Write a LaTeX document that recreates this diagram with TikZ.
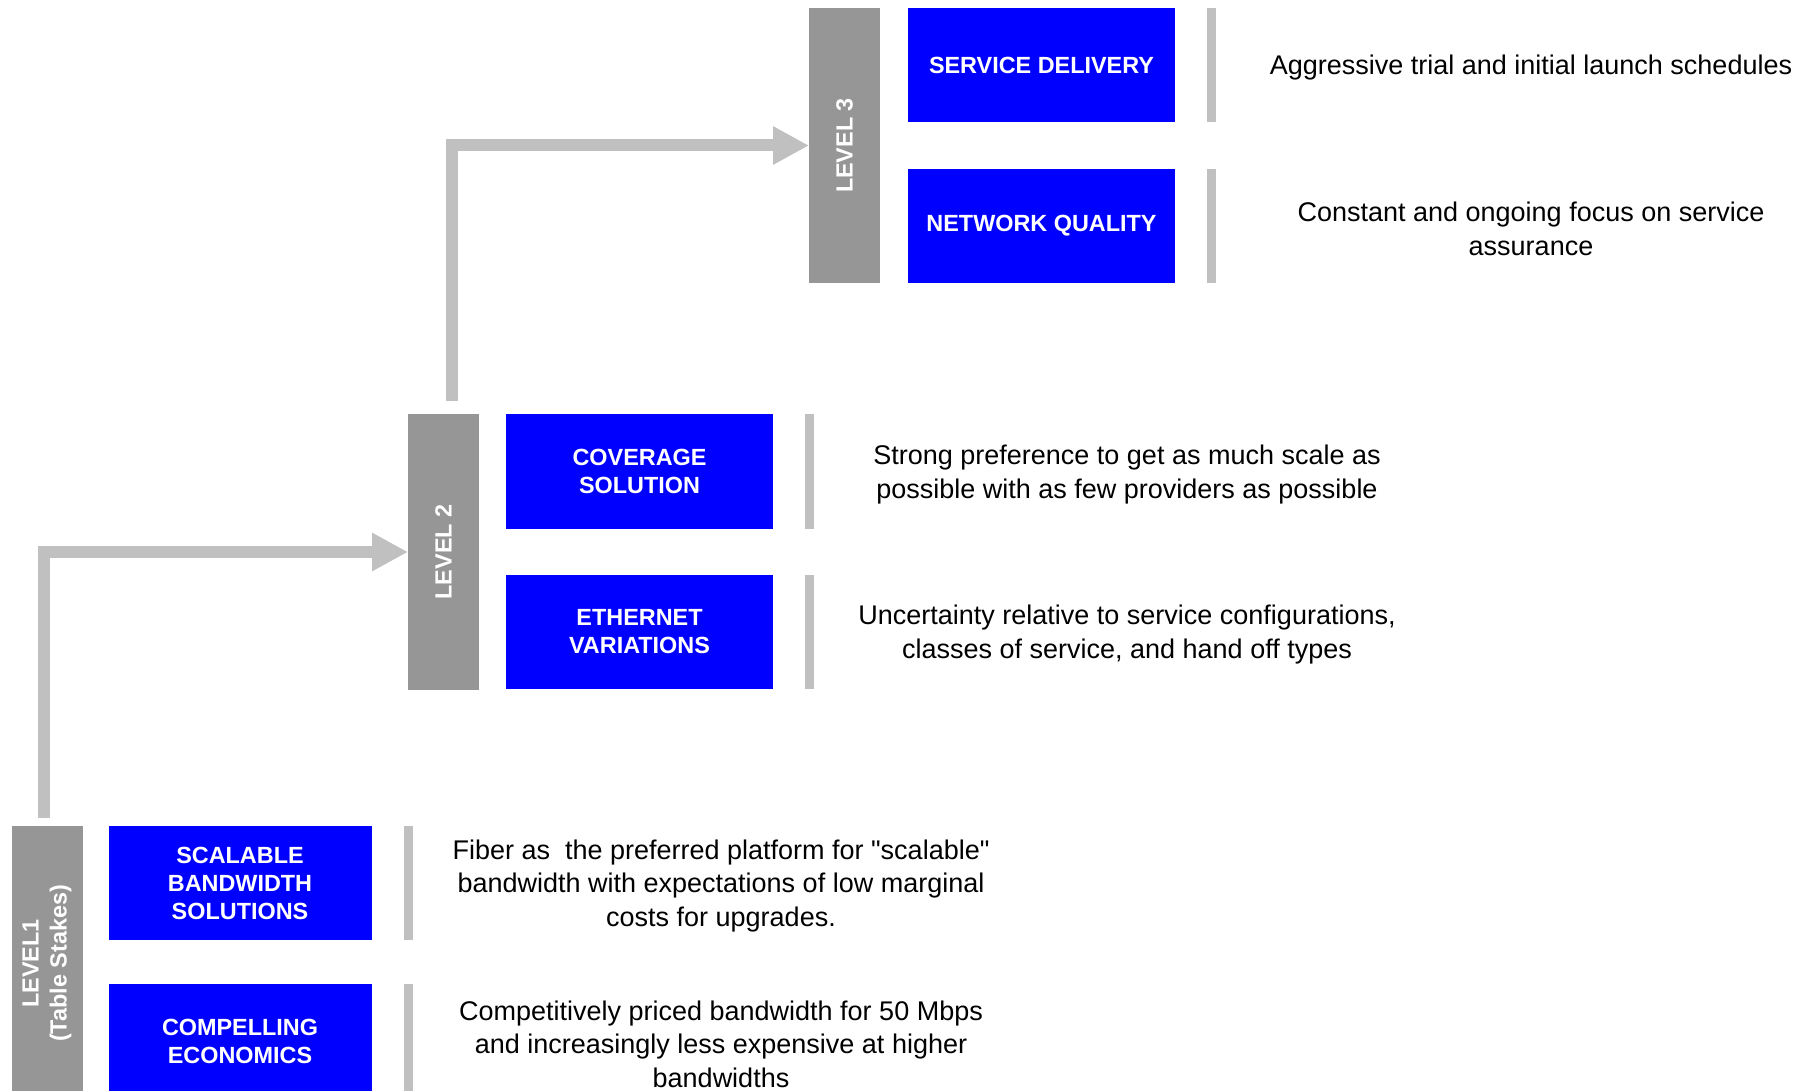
\documentclass[tikz,border=0pt]{standalone}
\usepackage{fontspec}
\setmainfont{Liberation Sans}
\usetikzlibrary{positioning}
\usetikzlibrary{arrows.meta}

\definecolor{boxblue}{RGB}{0,0,255}
\definecolor{bargray}{RGB}{150,150,150}
\definecolor{linegray}{RGB}{192,192,192}

\begin{document}
\begin{tikzpicture}[x=0.5pt, y=-0.5pt,
  lvlbar/.style={fill=bargray, text=white, minimum width=35.5pt, minimum height=137.5pt,
    inner sep=0, outer sep=0, font=\fontsize{11.7pt}{14pt}\selectfont\bfseries},
  itembox/.style={fill=boxblue, text=white, align=center, minimum width=133.5pt,
    minimum height=57pt, inner sep=0, outer sep=0, font=\fontsize{11.7pt}{14pt}\selectfont\bfseries},
  sepbar/.style={fill=linegray, minimum width=4.5pt, minimum height=57pt, inner sep=0, outer sep=0},
  desc/.style={align=center, yshift=-1.5pt, font=\fontsize{13.5pt}{16.8pt}\selectfont},
  flow/.style={draw=linegray, line width=6pt, -{Triangle[length=18pt, width=18pt]}}]

  % Page
  \useasboundingbox (0,0) rectangle (1817,1091);
  \clip (0,0) rectangle (1817,1091);

  % Level 3
  \node[lvlbar] (lvl3) at (844.5,145.5) {\rotatebox{90}{LEVEL 3}};
  \node[itembox, right=14pt of lvl3.north east, anchor=north west] (sd) {SERVICE DELIVERY};
  \node[itembox, below=23.5pt of sd] (nq) {NETWORK QUALITY};
  \node[sepbar, right=16pt of sd] (sdsep) {};
  \node[sepbar, right=16pt of nq] (nqsep) {};
  \node[desc] (sdtxt) at (1531,0 |- sd) {Aggressive trial and initial launch schedules};
  \node[desc] (nqtxt) at (1531,0 |- nq) {Constant and ongoing focus on service\\assurance};

  % Level 2
  \node[lvlbar] (lvl2) at (443.5,552) {\rotatebox{90}{LEVEL 2}};
  \node[itembox, right=13.5pt of lvl2.north east, anchor=north west] (cov) {COVERAGE\\SOLUTION};
  \node[itembox, below=23pt of cov] (eth) {ETHERNET\\VARIATIONS};
  \node[sepbar, right=16pt of cov] (covsep) {};
  \node[sepbar, right=16pt of eth] (ethsep) {};
  \node[desc] (covtxt) at (1127,0 |- cov) {Strong preference to get as much scale as\\possible with as few providers as possible};
  \node[desc] (ethtxt) at (1127,0 |- eth) {Uncertainty relative to service configurations,\\classes of service, and hand off types};

  % Level 1
  \node[lvlbar] (lvl1) at (47,963.5)
    {\rotatebox{90}{\begin{tabular}{@{}c@{}}LEVEL1\\(Table Stakes)\end{tabular}}};
  \node[itembox, minimum width=131.5pt, right=13pt of lvl1.north east, anchor=north west] (scal)
    {SCALABLE\\BANDWIDTH\\SOLUTIONS};
  \node[itembox, minimum width=131.5pt, below=22pt of scal] (econ) {COMPELLING\\ECONOMICS};
  \node[sepbar, right=16pt of scal] (scalsep) {};
  \node[sepbar, right=16pt of econ] (econsep) {};
  \node[desc] (scaltxt) at (721,0 |- scal)
    {Fiber as\ \ the preferred platform for \textquotedbl scalable\textquotedbl\\bandwidth with expectations of low marginal\\costs for upgrades.};
  \node[desc] (econtxt) at (721,0 |- econ)
    {Competitively priced bandwidth for 50 Mbps\\and increasingly less expensive at higher\\bandwidths};

  % Arrows
  \draw[flow] ([xshift=-1.5pt, yshift=4pt]lvl1.north) |- (lvl2.west);
  \draw[flow] ([xshift=4pt, yshift=6.5pt]lvl2.north) |- (lvl3.west);

\end{tikzpicture}
\end{document}
